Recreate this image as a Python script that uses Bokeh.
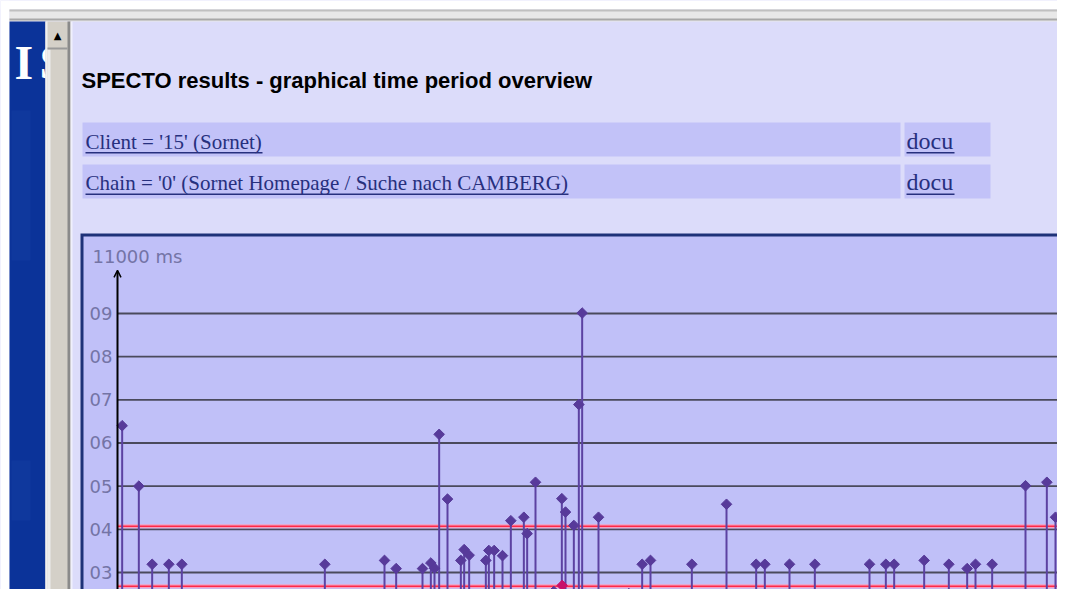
import math
from bokeh.plotting import figure
from bokeh.models import Range1d, BoxAnnotation, Label, Arrow, OpenHead, ColumnDataSource
from bokeh.core.properties import value
from bokeh.embed import file_html
from bokeh.resources import INLINE

# ---------------- data ----------------
title_text = "SPECTO results - graphical time period overview"
link_texts = ["Client = '15' (Sornet)", "Chain = '0' (Sornet Homepage / Suche nach CAMBERG)"]
docu_text = "docu"
unit_label = "11000 ms"

tick_ms = [9000, 8000, 7000, 6000, 5000, 4000, 3000]
tick_labels = ["09", "08", "07", "06", "05", "04", "03"]

threshold_ms = [4070, 2680]

# time of each measurement (minutes from start) and its response time (ms)
peak_min = [14, 64, 104, 154, 193, 622, 801, 836, 915, 940, 951, 965, 974, 990,
            1030, 1040, 1055, 1090, 1105, 1114, 1130, 1155, 1180, 1219, 1229, 1254,
            1309, 1333, 1344, 1369, 1384, 1394, 1443, 1534, 1574, 1599, 1723, 1827,
            1916, 1942, 2016, 2092, 2256, 2305, 2330, 2420, 2494, 2549, 2574, 2624,
            2724, 2788, 2814, 2868]
peak_ms = [6400, 5000, 3190, 3190, 3190, 3190, 3280, 3090, 3090, 3220, 3100, 6200, 2270, 4700,
           3280, 3530, 3400, 2260, 3280, 3510, 3510, 3390, 4200, 4280, 3900, 5090,
           2560, 4710, 4400, 4090, 6890, 9010, 4280, 2510, 3190, 3280, 3190, 4580,
           3190, 3190, 3190, 3190, 3190, 3190, 3190, 3280, 3190, 3090, 3190, 3190,
           5010, 5090, 4280, 4510]
alert_min = [1334]
alert_ms = [2700]

axis_top_ms = 10000
label_ms = 10330
# --------------------------------------

W, H = 1057, 589
p = figure(width=W, height=H, output_backend="svg", toolbar_location=None,
           x_range=Range1d(-351, 2820), y_range=Range1d(2606, 16250),
           min_border=0, x_axis_type=None, y_axis_type=None)
p.xgrid.visible = False
p.ygrid.visible = False
p.outline_line_color = None
p.background_fill_color = "#dcdcfa"
p.border_fill_color = "#dcdcfa"

def sx(X):
    return X

def sy(Y):
    return H - Y

def box(X0, Y0, X1, Y1, color, level="underlay", alpha=1.0):
    b = BoxAnnotation(left=sx(X0), right=sx(X1), top=sy(Y0), bottom=sy(Y1),
                      left_units="screen", right_units="screen",
                      top_units="screen", bottom_units="screen",
                      fill_color=color, fill_alpha=alpha, line_color=None, level=level)
    p.add_layout(b)
    return b

def label(X, Y, text, font, size, color, style="normal", align="left", baseline="middle"):
    p.add_layout(Label(x=sx(X), y=sy(Y), x_units="screen", y_units="screen", text=text,
                       text_font=font, text_font_size=size, text_font_style=style,
                       text_color=color, text_align=align, text_baseline=baseline))

# white outer margin and browser chrome at top
box(0, 0, W, 9, "white")
box(0, 0, 9, H, "white")
box(9, 9, W, 21, "#e8e8e8")
box(9, 9, W, 11, "#c0c0c0")
box(9, 18, W, 20, "#a8a8a8")

# left dark blue sidebar
box(9, 21, 45, H, "#0b3399")
box(11, 110, 30, 260, "#10389d", alpha=0.9)
box(11, 460, 30, 520, "#10389d", alpha=0.9)
label(14, 61.5, "I", "Liberation Serif", "48px", "white", style="bold")
label(39, 61.5, "S", "Liberation Serif", "48px", "white", style="bold")

# scrollbar
box(45, 21, 71, H, "#d4d0c8", level="annotation")
box(45, 21, 47, H, "#f0f0f0", level="annotation")
box(47, 49, 50, H, "#ececec", level="annotation")
box(67, 21, 70, H, "#8a8a8a", level="annotation")
box(70, 21, 72, H, "#f0f0fc", level="annotation")
box(47, 47, 67, 49, "#9a9a9a", level="annotation")
label(57, 35, "▲", "DejaVu Sans", "10px", "black", align="center")

# title
label(81, 79.5, title_text, "Liberation Sans", "22px", "black", style="bold")

# link rows
row_tops = [122, 164]
row_bottoms = [156, 198]
row_mid = [141, 182.5]
underline_y = [151.5, 193]
link_widths = [177, 483]
for i in range(2):
    box(82, row_tops[i], 900, row_bottoms[i], "#c2c2f8")
    box(904, row_tops[i], 990, row_bottoms[i], "#c2c2f8")
    label(85, row_mid[i], link_texts[i], "Liberation Serif", "21px", "#27307e")
    box(85, underline_y[i], 85 + link_widths[i], underline_y[i] + 1.5, "#27307e", level="annotation")
    label(906, row_mid[i] - 1, docu_text, "Liberation Serif", "24px", "#27307e")
    box(906, underline_y[i], 954, underline_y[i] + 1.5, "#27307e", level="annotation")

# chart panel
box(80, 233, W, H, "#1e3278")
box(83, 236, W, H, "#c0c0f8")

# grid lines and tick labels
p.segment(x0=0, x1=3000, y0=tick_ms, y1=tick_ms, line_color="#4a4a5c", line_width=1.8)
p.text(x=0, y=tick_ms, text=tick_labels, x_offset=-5, text_align="right",
       text_baseline="middle", text_font=value("DejaVu Sans"),
       text_font_size="18px", text_color="#7474a6")
p.text(x=[0], y=[label_ms], text=[unit_label], x_offset=-25, text_align="left",
       text_baseline="middle", text_font=value("DejaVu Sans"),
       text_font_size="18px", text_color="#7474a6")

# threshold lines
p.segment(x0=0, x1=3000, y0=threshold_ms, y1=threshold_ms, line_color="#f4a0c0", line_width=4)
p.segment(x0=0, x1=3000, y0=threshold_ms, y1=threshold_ms, line_color="#ff2848", line_width=1.4)

# spikes
src = ColumnDataSource(dict(t=peak_min, ms=peak_ms))
p.segment(x0="t", x1="t", y0=0, y1="ms", source=src, line_color="#5c42a2", line_width=2)
p.scatter(x="t", y="ms", source=src, marker="square", size=7.5, angle=math.pi / 4,
          fill_color="#573a9a", line_color="#573a9a", line_width=1)
asrc = ColumnDataSource(dict(t=alert_min, ms=alert_ms))
p.segment(x0="t", x1="t", y0=0, y1="ms", source=asrc, line_color="#d0207a", line_width=2)
p.scatter(x="t", y="ms", source=asrc, marker="square", size=7.5, angle=math.pi / 4,
          fill_color="#c8106a", line_color="#c8106a", line_width=1)

# y axis with arrow
p.add_layout(Arrow(end=OpenHead(size=7, line_width=1.5, line_color="black"),
                   x_start=0, y_start=0, x_end=0, y_end=axis_top_ms,
                   line_color="black", line_width=2))

open("out.html", "w").write(file_html(p, INLINE))
